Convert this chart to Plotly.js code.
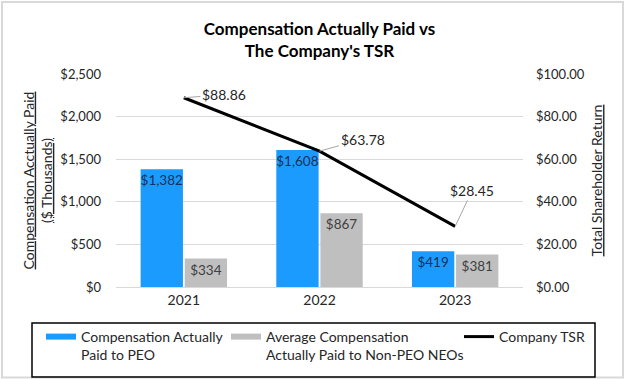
<!DOCTYPE html>
<html>
<head>
<meta charset="utf-8">
<script src="https://cdn.plot.ly/plotly-3.0.1.min.js"></script>
<style>
html,body{margin:0;padding:0;background:#fff;}
#chart{width:626px;height:379px;}
</style>
</head>
<body>
<div id="chart"></div>
<script>
const years = ['2021', '2022', '2023'];
const capPEO = [1382, 1608, 419];
const capNonPEO = [334, 867, 381];
const tsr = [88.86, 63.78, 28.45];
const leftTicks = [0, 500, 1000, 1500, 2000, 2500];
const leftTickText = ['$0', '$500', '$1,000', '$1,500', '$2,000', '$2,500'];
const rightTicks = [0, 20, 40, 60, 80, 100];
const rightTickText = ['$0.00', '$20.00', '$40.00', '$60.00', '$80.00', '$100.00'];
const seriesNames = ['Compensation Actually<br>Paid to PEO',
                     'Average Compensation<br>Actually Paid to Non-PEO NEOs',
                     'Company TSR'];
const seriesColors = ['#1c9bff', '#bfbfbf', '#000000'];

const W = 626, H = 379, ML = 116, MR = 103, MT = 74, MB = 92;
const PW = W - ML - MR, PH = H - MT - MB;
const px = x => (x - ML) / PW;
const py = y => (H - MB - y) / PH;

const FONT = 'Lato, "Open Sans", sans-serif';
const fmt = v => '$' + v.toLocaleString('en-US');

const traces = [
  {
    type: 'bar', name: seriesNames[0], showlegend: false,
    x: years, y: capPEO,
    marker: {color: seriesColors[0]},
    text: capPEO.map(fmt), textposition: 'inside', insidetextanchor: 'end',
    textfont: {color: '#14325a', size: 13.5, family: FONT},
    textangle: 0, hoverinfo: 'skip'
  },
  {
    type: 'bar', name: seriesNames[1], showlegend: false,
    x: years, y: capNonPEO,
    marker: {color: seriesColors[1]},
    text: capNonPEO.map(fmt), textposition: 'inside', insidetextanchor: 'end',
    textfont: {color: '#404040', size: 13.5, family: FONT},
    textangle: 0, hoverinfo: 'skip'
  },
  {
    type: 'scatter', mode: 'lines', name: seriesNames[2], showlegend: false,
    x: years, y: tsr, yaxis: 'y2',
    line: {color: seriesColors[2], width: 3}, hoverinfo: 'skip'
  }
];

// legend entries (line-style swatches like the reference), one legend each
const legendIds = ['legend', 'legend2', 'legend3'];
const swatchWidths = [6, 6, 3];
seriesNames.forEach((nm, i) => {
  traces.push({
    type: 'scatter', mode: 'lines', name: nm, legend: legendIds[i],
    x: years, y: years.map(() => null), yaxis: i === 2 ? 'y2' : 'y',
    line: {color: seriesColors[i], width: swatchWidths[i]}, hoverinfo: 'skip'
  });
});

const offs = [[40, -3], [43, -12], [17, -36]];
const annotations = tsr.map((v, i) => ({
  x: i, y: v, xref: 'x', yref: 'y2',
  text: '$' + v.toFixed(2), showarrow: true, arrowhead: 0, arrowwidth: 1,
  arrowcolor: '#a6a6a6', ax: offs[i][0], ay: offs[i][1], standoff: 0,
  font: {size: 14, color: '#262626', family: FONT}
}));

const legendBase = {
  orientation: 'v', xanchor: 'left', yanchor: 'top',
  borderwidth: 0, bgcolor: 'rgba(0,0,0,0)',
  font: {size: 14, color: '#262626', family: FONT}, itemwidth: 30, valign: 'top'
};
const textStarts = [81, 266, 499];

const layout = {
  width: W, height: H,
  margin: {l: ML, r: MR, t: MT, b: MB, pad: 0, autoexpand: false},
  paper_bgcolor: '#ffffff', plot_bgcolor: '#ffffff',
  font: {family: FONT, size: 13, color: '#262626'},
  uniformtext: {mode: 'show', minsize: 13.5},
  title: {
    text: '<b>Compensation Actually Paid vs<br>The Company\'s TSR</b>',
    x: 0.5, xref: 'paper', xanchor: 'center', y: 0.908, yanchor: 'top',
    font: {size: 17, color: '#000000', family: FONT}
  },
  barmode: 'group', bargap: 0.35, bargroupgap: 0.04,
  xaxis: {
    type: 'category', range: [-0.5, 2.5], showgrid: false, zeroline: false,
    showline: true, linecolor: '#d9d9d9', linewidth: 1, ticks: '',
    tickfont: {size: 14, color: '#262626'}
  },
  yaxis: {
    range: [0, 2500], tickvals: leftTicks, ticktext: leftTickText,
    showgrid: true, gridcolor: '#d9d9d9', zeroline: false, ticks: '',
    tickfont: {size: 13, color: '#262626'}, ticklabelstandoff: 14,
    title: {text: '<u>Compensation Acctually Paid</u><br><u>($ Thousands)</u>',
            font: {size: 14, color: '#262626'}, standoff: 4}
  },
  yaxis2: {
    range: [0, 100], tickvals: rightTicks, ticktext: rightTickText,
    overlaying: 'y', side: 'right', showgrid: false, zeroline: false, ticks: '',
    tickfont: {size: 13, color: '#262626'}, ticklabelstandoff: 12,
    title: {text: '<u>Total Shareholder Return</u>',
            font: {size: 14, color: '#262626'}, standoff: 8}
  },
  showlegend: true,
  annotations: annotations,
  shapes: [
    {
      type: 'rect', xref: 'paper', yref: 'paper',
      x0: px(2), x1: px(623), y0: py(377.5), y1: py(2),
      line: {color: '#d9d9d9', width: 2}, layer: 'below'
    },
    {
      type: 'rect', xref: 'paper', yref: 'paper',
      x0: px(32), x1: px(595), y0: py(377), y1: py(323),
      line: {color: '#000000', width: 1.5}, layer: 'above'
    }
  ]
};
legendIds.forEach((id, i) => {
  layout[id] = Object.assign({}, legendBase, {x: px(textStarts[i] - 40), y: py(321)});
});

Plotly.newPlot('chart', traces, layout, {staticPlot: true, displayModeBar: false});
</script>
</body>
</html>
